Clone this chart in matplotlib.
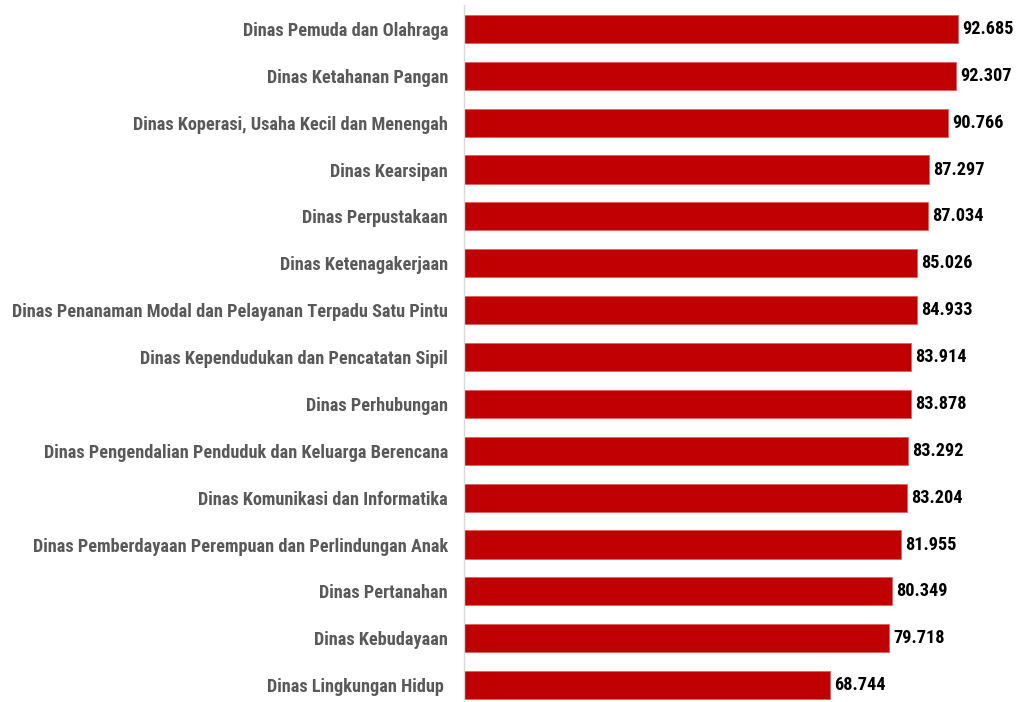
import matplotlib.pyplot as plt
from matplotlib import font_manager

# data
categories = ['Dinas Pemuda dan Olahraga', 'Dinas Ketahanan Pangan',
              'Dinas Koperasi, Usaha Kecil dan Menengah', 'Dinas Kearsipan',
              'Dinas Perpustakaan', 'Dinas Ketenagakerjaan',
              'Dinas Penanaman Modal dan Pelayanan Terpadu Satu Pintu',
              'Dinas Kependudukan dan Pencatatan Sipil', 'Dinas Perhubungan',
              'Dinas Pengendalian Penduduk dan Keluarga Berencana',
              'Dinas Komunikasi dan Informatika',
              'Dinas Pemberdayaan Perempuan dan Perlindungan Anak',
              'Dinas Pertanahan', 'Dinas Kebudayaan', 'Dinas Lingkungan Hidup ']
values = [92.685, 92.307, 90.766, 87.297, 87.034, 85.026, 84.933, 83.914,
          83.878, 83.292, 83.204, 81.955, 80.349, 79.718, 68.744]
value_labels = ['92.685', '92.307', '90.766', '87.297', '87.034', '85.026', '84.933',
                '83.914', '83.878', '83.292', '83.204', '81.955', '80.349', '79.718', '68.744']

# look for a narrow font (Calibri-like look)
fam = 'DejaVu Sans'
stretch = 'normal'
names = {f.name: f for f in font_manager.fontManager.ttflist}
for cand in ['Liberation Sans Narrow', 'Roboto Condensed', 'Open Sans Condensed', 'Noto Sans Condensed']:
    if cand in names:
        fam = cand
        break
else:
    if any(f.name == 'DejaVu Sans' and 'condensed' in str(f.stretch) for f in font_manager.fontManager.ttflist):
        stretch = 'condensed'
plt.rcParams['font.family'] = [fam, 'DejaVu Sans']

W, H = 1016, 702
fig = plt.figure(figsize=(W / 100, H / 100), dpi=100)
ax = fig.add_axes([464 / W, 0, (W - 464) / W, (H - 5) / H])

y = list(range(len(categories)))
ax.barh(y, values, height=0.6, color='#C00000', edgecolor='#E06060', linewidth=0.6)

# fit label size so the longest label spans ~435 px like the reference
renderer = fig.canvas.get_renderer()
probe = fig.text(0, 0, max(categories, key=len), fontsize=12, fontweight='bold', fontstretch=stretch)
w = probe.get_window_extent(renderer).width
probe.remove()
fs = 12 * 435 / w

probe = fig.text(0, 0, '92.685', fontsize=12, fontweight='bold', fontstretch=stretch)
wv = probe.get_window_extent(renderer).width
probe.remove()
fsv = min(12 * 51 / wv, 15)

for yi, v, lab in zip(y, values, value_labels):
    ax.text(v + 0.75, yi, lab, va='center', ha='left', fontsize=fsv,
            fontweight='bold', fontstretch=stretch, color='black')

ax.set_xlim(0, (W - 464) / 5.33)
ax.set_ylim(14 + 0.36, -0.51)
ax.set_yticks(y)
ax.set_yticklabels(categories, fontsize=fs, fontweight='bold', fontstretch=stretch, color='#595959')
ax.tick_params(axis='y', length=0, pad=11.5)
ax.set_xticks([])
for s in ['top', 'right', 'bottom']:
    ax.spines[s].set_visible(False)
ax.spines['left'].set_color('#D9D9D9')
ax.spines['left'].set_linewidth(1.0)

fig.savefig('out.png', dpi=100)
